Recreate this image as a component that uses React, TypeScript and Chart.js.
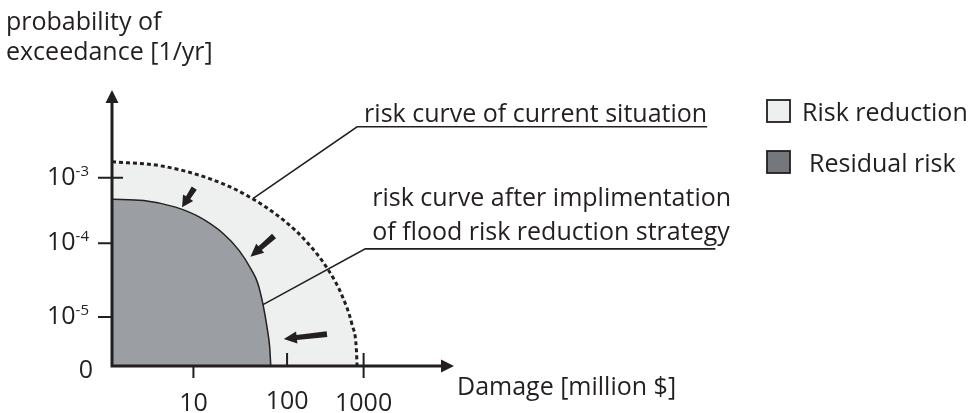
import React, { useEffect, useRef } from 'react';
import { Chart, registerables } from 'chart.js';

Chart.register(...registerables);

// ---- data (schematic units; x ~ log damage, y ~ log probability) ----
const residualCurveX = [0, 0.39, 0.78, 1.07, 1.365, 1.56, 1.716, 1.79, 1.855, 1.905, 1.937, 1.95];
const residualCurveY = [2.72, 2.70, 2.59, 2.43, 2.16, 1.885, 1.56, 1.35, 1.0, 0.62, 0.3, 0];

const currentCurveX = [0, 0.602, 1.204, 1.656, 2.107, 2.408, 2.649, 2.829, 2.95, 3.0, 3.01];
const currentCurveY = [3.33, 3.263, 3.052, 2.781, 2.378, 1.998, 1.582, 1.136, 0.663, 0.3, 0];

const xTickValues = [1.0, 2.15, 3.09];
const xTickLabels = ['10', '100', '1000'];
const xTickMarks = ['out', 'in', 'cross'];

const yTickValues = [0, 0.8, 2.0, 3.07];
const yTickBase = ['0', '10', '10', '10'];
const yTickExp = ['', '-5', '-4', '-3'];
const yTickMarks = ['none', 'out', 'out', 'cross'];

// reduction arrows (from -> to)
const arrowFromX = [1.01, 1.99, 2.64];
const arrowFromY = [2.90, 2.12, 0.52];
const arrowToX = [0.86, 1.70, 2.11];
const arrowToY = [2.59, 1.78, 0.44];

// annotation leader lines: start on curve, elbow, end
const leaderStartX = [1.73, 1.855];
const leaderStartY = [2.73, 1.0];
const leaderElbowX = [3.01, 3.11];
const leaderElbowY = [3.90, 1.91];
const leaderEndX = [7.31, 7.41];
const leaderLabels = [
  ['risk curve of current situation'],
  ['risk curve after implimentation', 'of flood risk reduction strategy'],
];

const yAxisTitle = ['probability of', 'exceedance [1/yr]'];
const xAxisTitle = 'Damage [million $]';
const legendLabels = ['Risk reduction', 'Residual risk'];

// ---- styles ----
const INK = '#231f20';
const RESIDUAL_FILL = '#9b9fa3';
const REDUCTION_FILL = '#eeefef';
const LEGEND_RESIDUAL = '#74787d';
const FONT = '"Open Sans", "DejaVu Sans", sans-serif';
const LEADER_TEXT_OFFSETS = [[-5], [-43, -9]];

const overlay = {
  id: 'overlay',
  afterDatasetsDraw(chart: any) {
    const ctx: CanvasRenderingContext2D = chart.ctx;
    const xs = chart.scales.x;
    const ys = chart.scales.y;
    const ox = xs.getPixelForValue(0);
    const oy = ys.getPixelForValue(0);
    const area = chart.chartArea;
    ctx.save();
    ctx.strokeStyle = INK;
    ctx.fillStyle = INK;
    ctx.lineCap = 'butt';

    // axes
    ctx.lineWidth = 3;
    ctx.beginPath();
    ctx.moveTo(ox, oy + 1.5);
    ctx.lineTo(ox, area.top + 12);
    ctx.moveTo(ox - 1.5, oy);
    ctx.lineTo(area.right - 12, oy);
    ctx.stroke();
    // arrow heads
    ctx.beginPath();
    ctx.moveTo(ox, area.top);
    ctx.lineTo(ox - 6.5, area.top + 13);
    ctx.lineTo(ox + 6.5, area.top + 13);
    ctx.closePath();
    ctx.fill();
    ctx.beginPath();
    ctx.moveTo(area.right, oy);
    ctx.lineTo(area.right - 13, oy - 6.5);
    ctx.lineTo(area.right - 13, oy + 6.5);
    ctx.closePath();
    ctx.fill();

    // ticks
    ctx.lineWidth = 2;
    ctx.beginPath();
    xTickValues.forEach((v, i) => {
      const px = xs.getPixelForValue(v);
      const m = xTickMarks[i];
      const top = m === 'out' ? oy : oy - 13;
      const bot = m === 'in' ? oy : oy + 12;
      ctx.moveTo(px, top);
      ctx.lineTo(px, bot);
    });
    yTickValues.forEach((v, i) => {
      const m = yTickMarks[i];
      if (m === 'none') return;
      const py = ys.getPixelForValue(v);
      ctx.moveTo(ox - 14, py);
      ctx.lineTo(m === 'cross' ? ox + 11 : ox, py);
    });
    ctx.stroke();

    // reduction arrows
    arrowFromX.forEach((_, i) => {
      const x1 = xs.getPixelForValue(arrowFromX[i]);
      const y1 = ys.getPixelForValue(arrowFromY[i]);
      const x2 = xs.getPixelForValue(arrowToX[i]);
      const y2 = ys.getPixelForValue(arrowToY[i]);
      const ang = Math.atan2(y2 - y1, x2 - x1);
      const len = Math.hypot(x2 - x1, y2 - y1);
      const head = Math.min(13, len * 0.5);
      ctx.save();
      ctx.translate(x1, y1);
      ctx.rotate(ang);
      ctx.beginPath();
      ctx.moveTo(0, -3);
      ctx.lineTo(len - head, -2.5);
      ctx.lineTo(len - head, -6);
      ctx.lineTo(len, 0);
      ctx.lineTo(len - head, 6);
      ctx.lineTo(len - head, 2.5);
      ctx.lineTo(0, 3);
      ctx.closePath();
      ctx.fill();
      ctx.restore();
    });

    // leader lines
    ctx.lineWidth = 1.6;
    leaderStartX.forEach((_, i) => {
      ctx.beginPath();
      ctx.moveTo(xs.getPixelForValue(leaderStartX[i]), ys.getPixelForValue(leaderStartY[i]));
      ctx.lineTo(xs.getPixelForValue(leaderElbowX[i]), ys.getPixelForValue(leaderElbowY[i]));
      ctx.lineTo(xs.getPixelForValue(leaderEndX[i]), ys.getPixelForValue(leaderElbowY[i]));
      ctx.stroke();
    });
    ctx.restore();
  },
  afterDraw(chart: any) {
    const ctx: CanvasRenderingContext2D = chart.ctx;
    const xs = chart.scales.x;
    const ys = chart.scales.y;
    const ox = xs.getPixelForValue(0);
    const oy = ys.getPixelForValue(0);
    ctx.save();
    ctx.fillStyle = INK;
    ctx.textBaseline = 'alphabetic';
    const big = `25px ${FONT}`;
    const small = `15px ${FONT}`;

    // y axis title
    ctx.font = big;
    ctx.textAlign = 'left';
    ctx.fillText(yAxisTitle[0], 6, 30);
    ctx.fillText(yAxisTitle[1], 6, 60);

    // x axis title
    ctx.fillText(xAxisTitle, chart.chartArea.right + 3, oy + 29);

    // x tick labels
    ctx.textAlign = 'center';
    xTickValues.forEach((v, i) => {
      const px = xs.getPixelForValue(v);
      ctx.fillText(xTickLabels[i], px, i === 1 ? oy + 43 : oy + 45);
    });

    // y tick labels
    yTickValues.forEach((v, i) => {
      const py = ys.getPixelForValue(v);
      if (!yTickExp[i]) {
        ctx.font = big;
        ctx.textAlign = 'right';
        ctx.fillText(yTickBase[i], ox - 19, py + 12);
        return;
      }
      ctx.font = small;
      ctx.textAlign = 'left';
      const ew = ctx.measureText(yTickExp[i]).width;
      const right = ox - 23;
      ctx.fillText(yTickExp[i], right - ew, py - 2);
      ctx.font = big;
      ctx.textAlign = 'right';
      ctx.fillText(yTickBase[i], right - ew, py + 7);
    });

    // leader labels
    ctx.font = big;
    ctx.textAlign = 'left';
    leaderLabels.forEach((lines, i) => {
      const ex = xs.getPixelForValue(leaderElbowX[i]);
      const ey = ys.getPixelForValue(leaderElbowY[i]);
      lines.forEach((t, j) => {
        ctx.fillText(t, ex + 7, ey + LEADER_TEXT_OFFSETS[i][j]);
      });
    });

    // legend
    const lx = 767;
    const ly = [100, 151];
    const fills = [REDUCTION_FILL, LEGEND_RESIDUAL];
    legendLabels.forEach((t, i) => {
      ctx.fillStyle = fills[i];
      ctx.fillRect(lx, ly[i], 23, 22);
      ctx.strokeStyle = INK;
      ctx.lineWidth = 1.8;
      ctx.strokeRect(lx, ly[i], 23, 22);
      ctx.fillStyle = INK;
      ctx.fillText(t, i === 0 ? 802 : 809, ly[i] + 21);
    });
    ctx.restore();
  },
};

export default function App() {
  const ref = useRef<HTMLCanvasElement>(null);
  useEffect(() => {
    if (!ref.current) return;
    const chart = new Chart(ref.current, {
      type: 'scatter',
      data: {
        datasets: [
          {
            label: 'Residual risk',
            data: residualCurveX.map((x, i) => ({ x, y: residualCurveY[i] })),
            showLine: true,
            borderColor: INK,
            borderWidth: 1.5,
            backgroundColor: RESIDUAL_FILL,
            fill: 'origin',
            pointRadius: 0,
            cubicInterpolationMode: 'monotone',
          },
          {
            label: 'Risk reduction',
            data: currentCurveX.map((x, i) => ({ x, y: currentCurveY[i] })),
            showLine: true,
            borderColor: INK,
            borderWidth: 3,
            borderDash: [4, 3],
            backgroundColor: REDUCTION_FILL,
            fill: 'origin',
            pointRadius: 0,
            cubicInterpolationMode: 'monotone',
          },
        ],
      },
      options: {
        responsive: false,
        maintainAspectRatio: false,
        animation: false,
        layout: { padding: { left: 112, top: 90, right: 523, bottom: 47 } },
        scales: {
          x: { type: 'linear', min: 0, max: 4.2, display: false },
          y: { type: 'linear', min: 0, max: 4.5, display: false },
        },
        plugins: {
          legend: { display: false },
          tooltip: { enabled: false },
        },
      },
      plugins: [overlay],
    } as any);
    return () => chart.destroy();
  }, []);
  return (
    <div style={{ position: 'fixed', left: 0, top: 0, width: 977, height: 413, background: '#fff' }}>
      <canvas ref={ref} width={977} height={413} style={{ display: 'block', width: 977, height: 413 }} />
    </div>
  );
}
